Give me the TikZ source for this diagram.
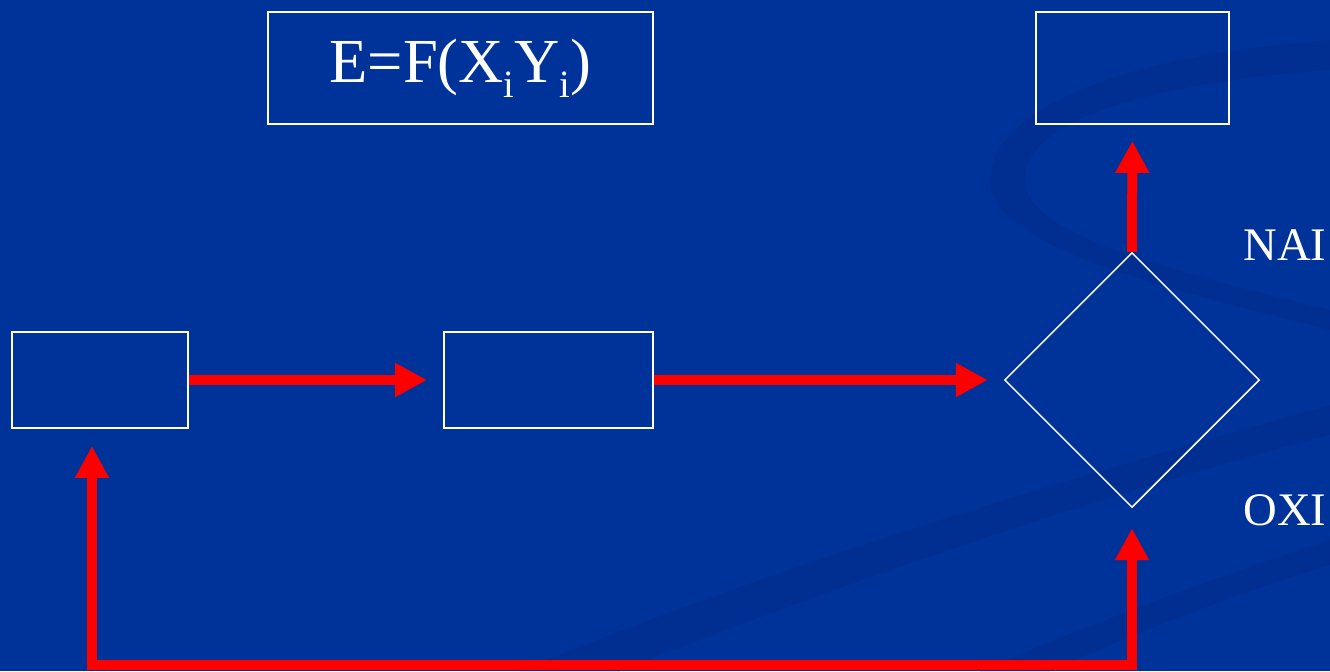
\documentclass[tikz,border=0pt]{standalone}
\usepackage{fontspec}
\setmainfont{Liberation Serif}
\usetikzlibrary{arrows.meta,shapes.geometric,calc}
\definecolor{bg}{RGB}{0,51,153}
\definecolor{swoosh}{RGB}{0,47,145}
\definecolor{arrowred}{RGB}{255,0,0}
\tikzset{
  box/.style={draw=white,line width=1.4pt,inner sep=0pt},
  decision/.style={draw=white,line width=1.1pt,shape=diamond,inner sep=0pt,minimum width=191.25pt,minimum height=191.25pt},
  flow/.style={draw=arrowred,line width=7.5pt,-{Triangle[length=24pt,width=24pt]}},
  twoway/.style={draw=arrowred,line width=7.5pt,{Triangle[length=24pt,width=24pt]}-{Triangle[length=24pt,width=24pt]},line join=miter},
  lbl/.style={text=white,font=\fontsize{35}{40}\selectfont,inner sep=0pt}
}
\begin{document}
\begin{tikzpicture}[x=0.75pt,y=-0.75pt]
\useasboundingbox (0,0) rectangle (1330,671);
\fill[bg] (0,0) rectangle (1330,671);
% background swooshes
\fill[swoosh] (1330,40) .. controls (1120,55) and (990,110) .. (990,180)
  .. controls (990,245) and (1150,285) .. (1330,330) -- (1330,310)
  .. controls (1170,270) and (1025,235) .. (1025,180)
  .. controls (1025,125) and (1130,85) .. (1330,70) -- cycle;
\fill[swoosh] (520,671) .. controls (800,555) and (1100,470) .. (1330,405) -- (1330,435)
  .. controls (1100,495) and (850,580) .. (620,671) -- cycle;
\fill[swoosh] (980,671) .. controls (1100,620) and (1220,575) .. (1330,540) -- (1330,565)
  .. controls (1230,595) and (1120,640) .. (1050,671) -- cycle;
% nodes
\node[box,minimum width=288.75pt,minimum height=84pt] (F) at (460.5,68)
  {\fontsize{47}{52}\selectfont\color{white}E=F(X\raisebox{-11pt}{\fontsize{29}{32}\selectfont i}Y\raisebox{-11pt}{\fontsize{29}{32}\selectfont i})};
\node[box,minimum width=144.75pt,minimum height=84pt] (R) at (1132.5,68) {};
\node[box,minimum width=132pt,minimum height=72pt] (L) at (100,380) {};
\node[box,minimum width=156.75pt,minimum height=72pt] (M) at (548.5,380) {};
\node[decision] (D) at (1132,380) {};
\node[lbl] (yes) at (1285,245) {NAI};
\node[lbl] (no) at (1285,510) {OXI};
\coordinate (c1) at (92,665);
\coordinate (c2) at (1132,665);
% connectors
\draw[flow,shorten >=12pt] (L.east) -- (M.west);
\draw[flow,shorten >=12pt] (M.east) -- (D.west);
\draw[flow,shorten >=12pt] (D.north) -- (R.south);
\draw[twoway,shorten <=12.75pt,shorten >=15pt] ([xshift=-6pt]L.south) -- (c1) -- (c2) -- (D.south);
\end{tikzpicture}
\end{document}
